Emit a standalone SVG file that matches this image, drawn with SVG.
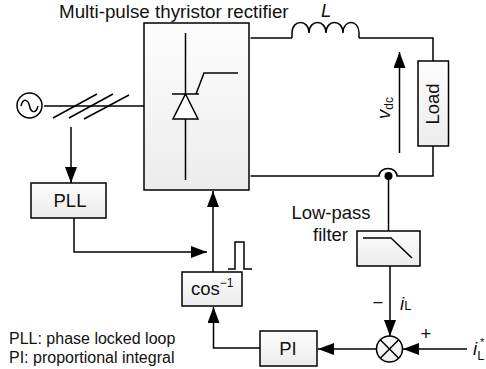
<svg xmlns="http://www.w3.org/2000/svg" width="486" height="369" viewBox="0 0 486 369">
<style>
text{font-family:"Liberation Sans",Arial,sans-serif;fill:#111}
.l{fill:none;stroke:#000;stroke-width:1.5}
.b{fill:url(#g);stroke:#000;stroke-width:1.5}
.t{font-size:18.500px}
.s{font-size:16px}
.i{font-style:italic}
</style>
<defs>
<linearGradient id="g" x1="0" y1="0" x2="0" y2="1"><stop offset="0" stop-color="#fdfdfd"/><stop offset="1" stop-color="#ececec"/></linearGradient>
<marker id="a" viewBox="0 0 16 12" refX="16" refY="6" markerWidth="16" markerHeight="12" markerUnits="userSpaceOnUse" orient="auto"><path d="M0 0L16 6L0 12Z" fill="#000"/></marker>
</defs>
<g id="source"><circle cx="29.500" cy="105.500" r="12.500" fill="#fff" stroke="#000" stroke-width="1.500"/><path class="l" d="M21 106C23 98 28 99 29.500 106S36 114 38 106"/></g>
<g id="rectifier">
<rect class="b" x="144" y="23" width="105" height="167"/>
<path class="l" d="M185.500 33V94M185.500 119V180M172 94H199M196 94L204 73H238"/>
<path d="M185.500 94L198 119H173Z" fill="#fff" stroke="#000" stroke-width="1.500"/>
<text class="t" x="59" y="18" style="font-size:18.800px">Multi-pulse thyristor rectifier</text>
</g>
<g id="inductor"><text class="t i" x="321" y="17">L</text></g>
<g id="load"><rect class="b" x="418" y="61" width="30.500" height="85"/><text class="t" transform="translate(439 104) rotate(-90)" text-anchor="middle">Load</text></g>
<g id="vdc"><text class="t i" transform="translate(390 119) rotate(-90)">v<tspan font-size="12" font-style="normal" dy="3">dc</tspan></text></g>
<g id="pll"><rect class="b" x="31" y="183" width="75" height="35"/><text class="t" x="70" y="206.500" text-anchor="middle">PLL</text></g>
<g id="cos"><rect class="b" x="182" y="272" width="60" height="34"/><text class="t" x="191" y="295">cos<tspan font-size="12" dy="-8">−1</tspan></text></g>
<g id="pi"><rect class="b" x="260" y="331" width="57" height="35"/><text class="t" x="288" y="355" text-anchor="middle">PI</text></g>
<g id="filter"><rect class="b" x="357" y="231" width="63" height="35"/><path class="l" d="M363 238H391L412 258"/>
<text class="t" x="331" y="219" text-anchor="middle">Low-pass</text><text class="t" x="330.500" y="241" text-anchor="middle">filter</text></g>
<g id="sum"><circle cx="389.500" cy="349" r="13" fill="url(#g)" stroke="#000" stroke-width="1.500"/><path class="l" d="M380.500 340L398.500 358M398.500 340L380.500 358"/></g>
<g id="connectors">
<path class="l" d="M44 106H144"/>
<path class="l" d="M53 118L97 94M69 118L113 94M84 119L129 95"/>
<path class="l" d="M71 127V183" marker-end="url(#a)"/>
<path class="l" d="M74 218V252H207" marker-end="url(#a)"/>
<path class="l" d="M213 272V191" marker-end="url(#a)"/>
<path class="l" d="M228 269H235V242H244V269H252"/>
<path class="l" d="M250.500 38H292M359 38H433V61M433 146V176H397A9 7.500 0 0 0 379 176H250.500"/>
<path class="l" d="M292 38V33C292 19 309 19 309 33C309 19 326 19 326 33C326 19 343 19 343 33C343 19 359 19 359 33V38"/>
<path class="l" d="M399.500 153V52" marker-end="url(#a)"/>
<circle cx="388.500" cy="176" r="4" fill="#000"/>
<path class="l" d="M388.500 176V231"/>
<path class="l" d="M390 266V336" marker-end="url(#a)"/>
<path class="l" d="M467 349H403" marker-end="url(#a)"/>
<path class="l" d="M376 349H318" marker-end="url(#a)"/>
<path class="l" d="M260 348H213.500V307" marker-end="url(#a)"/>
</g>
<g id="labels">
<text class="t" x="378" y="309" text-anchor="middle">−</text>
<text class="t i" x="400" y="310">i<tspan font-size="13" font-style="normal" dy="0">L</tspan></text>
<text class="t" x="426" y="340" text-anchor="middle">+</text>
<text class="t i" x="473" y="355">i<tspan font-size="13" font-style="normal" dy="5">L</tspan></text>
<text font-size="11" x="480" y="346">*</text>
<text class="s" x="9" y="344">PLL: phase locked loop</text>
<text class="s" x="9" y="363">PI: proportional integral</text>
</g>
</svg>
